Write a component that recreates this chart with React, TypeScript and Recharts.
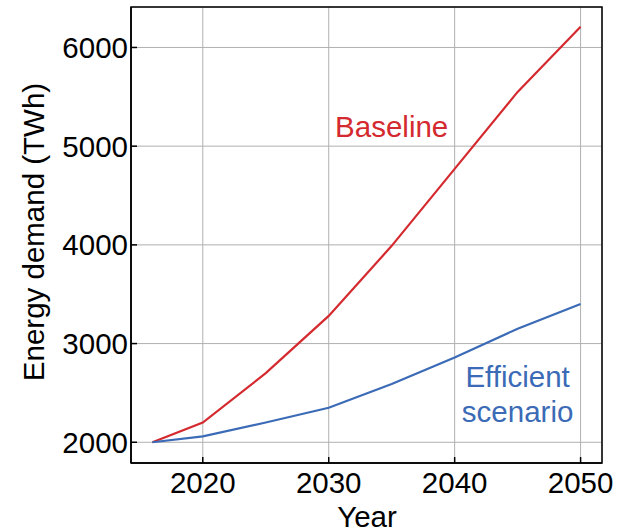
import React from 'react';
import { LineChart, Line, XAxis, YAxis, CartesianGrid, ReferenceArea, ReferenceDot } from 'recharts';

const years = [2016, 2020, 2025, 2030, 2035, 2040, 2045, 2050];
const baseline = [2000, 2200, 2700, 3280, 3990, 4770, 5550, 6210];
const efficient = [2000, 2060, 2200, 2350, 2590, 2860, 3150, 3400];
const xTicks = [2020, 2030, 2040, 2050];
const yTicks = [2000, 3000, 4000, 5000, 6000];
const xDomain = [2014.3, 2051.7];
const yDomain = [1790, 6410];

const data = years.map((y, i) => ({ year: y, baseline: baseline[i], efficient: efficient[i] }));

const RED = '#d42a2f';
const BLUE = '#3b6bb6';
const FONT = '"Liberation Sans", Arial, Helvetica, sans-serif';
const FS = 29.5;

const XTick = (props: any) => {
  const { x, y, payload } = props;
  return (
    <g>
      <line x1={x} x2={x} y1={y} y2={y - 6} stroke="#000" strokeWidth={1.5} />
      <text x={x} y={y + 30} textAnchor="middle" fontSize={FS} fontFamily={FONT} fill="#000">
        {payload.value}
      </text>
    </g>
  );
};

const YTick = (props: any) => {
  const { x, y, payload } = props;
  return (
    <g>
      <line x1={x} x2={x + 6} y1={y} y2={y} stroke="#000" strokeWidth={1.5} />
      <text x={x - 3} y={y + 10.5} textAnchor="end" fontSize={FS} fontFamily={FONT} fill="#000">
        {payload.value}
      </text>
    </g>
  );
};

export default function App() {
  return (
    <div style={{ position: 'absolute', left: 0, top: 0, background: '#fff' }}>
      <LineChart width={618} height={532} data={data} margin={{ top: 7, right: 16, bottom: 0, left: 0 }}>
        <CartesianGrid stroke="#b0b0b0" strokeWidth={1} />
        <XAxis
          dataKey="year"
          type="number"
          domain={xDomain}
          ticks={xTicks}
          allowDataOverflow
          height={69}
          tickSize={0}
          tickMargin={0}
          tickLine={false}
          axisLine={{ stroke: '#000', strokeWidth: 1.5 }}
          tick={<XTick />}
          label={{
            content: () => (
              <text x={367} y={527} textAnchor="middle" fontSize={FS} fontFamily={FONT} fill="#000">
                Year
              </text>
            ),
          }}
        />
        <YAxis
          type="number"
          domain={yDomain}
          ticks={yTicks}
          allowDataOverflow
          width={131}
          tickSize={0}
          tickMargin={0}
          tickLine={false}
          axisLine={{ stroke: '#000', strokeWidth: 1.5 }}
          tick={<YTick />}
          label={{
            content: () => (
              <text
                x={33}
                y={232}
                transform="rotate(-90 33 232)"
                textAnchor="middle"
                dominantBaseline="central"
                fontSize={FS}
                fontFamily={FONT}
                fill="#000"
              >
                Energy demand (TWh)
              </text>
            ),
          }}
        />
        <ReferenceArea
          x1={xDomain[0]}
          x2={xDomain[1]}
          y1={yDomain[0]}
          y2={yDomain[1]}
          fill="none"
          stroke="#000"
          strokeWidth={1.5}
          ifOverflow="visible"
        />
        <Line type="linear" dataKey="baseline" stroke={RED} strokeWidth={2.2} dot={false} isAnimationActive={false} />
        <Line type="linear" dataKey="efficient" stroke={BLUE} strokeWidth={2.2} dot={false} isAnimationActive={false} />
        <ReferenceDot
          x={2035}
          y={5200}
          r={0}
          fill="none"
          stroke="none"
          label={{ value: 'Baseline', position: 'center', fill: RED, fontSize: FS, fontFamily: FONT }}
        />
        <ReferenceDot
          x={2045}
          y={2670}
          r={0}
          fill="none"
          stroke="none"
          label={{ value: 'Efficient', position: 'center', fill: BLUE, fontSize: FS, fontFamily: FONT }}
        />
        <ReferenceDot
          x={2045}
          y={2315}
          r={0}
          fill="none"
          stroke="none"
          label={{ value: 'scenario', position: 'center', fill: BLUE, fontSize: FS, fontFamily: FONT }}
        />
      </LineChart>
    </div>
  );
}
